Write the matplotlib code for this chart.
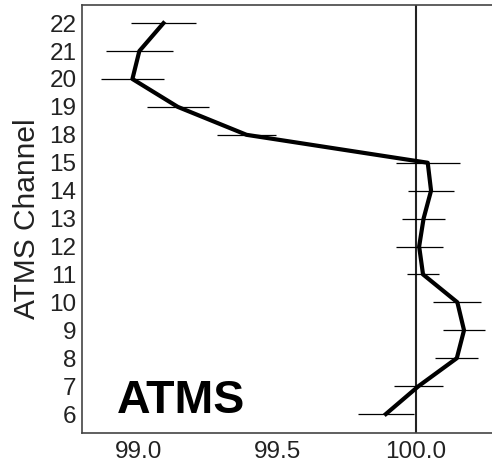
import matplotlib.pyplot as plt

plt.rcParams["font.family"] = ["Liberation Sans", "DejaVu Sans"]

channels = [6, 7, 8, 9, 10, 11, 12, 13, 14, 15, 18, 19, 20, 21, 22]
values = [99.892, 100.01, 100.148, 100.174, 100.15, 100.026, 100.012, 100.028,
          100.055, 100.043, 99.389, 99.141, 98.977, 99.002, 99.089]
errors = [0.101, 0.089, 0.078, 0.076, 0.087, 0.059, 0.085, 0.078,
          0.082, 0.116, 0.106, 0.112, 0.114, 0.121, 0.118]

fig = plt.figure(figsize=(4.92, 4.62), dpi=100)
ax = fig.add_axes([82 / 492, 29 / 462, 1 - 82 / 492, 428 / 462])

pos = list(range(len(channels)))
ax.errorbar(values, pos, xerr=errors, fmt="none", ecolor="black",
            elinewidth=0.9, capsize=0, zorder=2)
ax.plot(values, pos, color="black", linewidth=3, zorder=3)
ax.axvline(100.0, color="#222222", linewidth=1.5, zorder=1)

ax.set_xlim(98.795, 100.275)
ax.set_ylim(-0.68, 14.65)
ax.set_xticks([99.0, 99.5, 100.0])
ax.set_xticklabels(["99.0", "99.5", "100.0"])
ax.set_yticks(pos)
ax.set_yticklabels([str(c) for c in channels])
ax.tick_params(axis="both", length=0, labelsize=17.5, labelcolor="#222222")
ax.tick_params(axis="y", pad=4)
ax.tick_params(axis="x", pad=6)

for side in ["left", "bottom", "top"]:
    ax.spines[side].set_color("#444444")
    ax.spines[side].set_linewidth(1.2)
ax.spines["right"].set_visible(False)

ax.set_ylabel("ATMS Channel", fontsize=21.5, color="#222222", labelpad=6)
ax.text(0.085, 0.047, "ATMS", transform=ax.transAxes, fontsize=33.5,
        fontweight="bold", color="black")

fig.savefig("out.png", dpi=100)
